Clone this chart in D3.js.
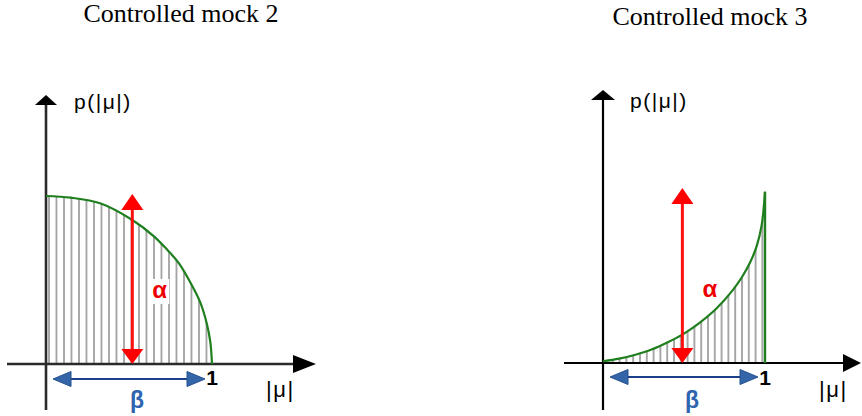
<!DOCTYPE html>
<html><head><meta charset="utf-8">
<script src="https://cdn.jsdelivr.net/npm/d3@7"></script>
<style>html,body{margin:0;padding:0;background:#fff;overflow:hidden}</style>
</head><body><svg id="c" width="862" height="416"></svg>
<script>
// ---------- data ----------
const panelTitles = ["Controlled mock 2", "Controlled mock 3"];
const yAxisLabel = "p(|μ|)";
const xAxisLabel = "|μ|";
const xTickLabels = ["1"];
const arrowLabels = ["α", "β"];
// mock 2: decreasing (quarter-ellipse-like) density of |μ|
const mock2Mu = [0, 0.15, 0.33, 0.52, 0.65, 0.73, 0.8, 0.886, 0.93, 0.97, 0.99, 1];
const mock2P  = [1, 0.99, 0.955, 0.857, 0.76, 0.68, 0.6, 0.455, 0.365, 0.235, 0.13, 0];
// mock 3: increasing density of |μ|
const mock3Mu = [0, 0.1, 0.2, 0.3, 0.4, 0.5, 0.6, 0.7, 0.8, 0.86, 0.91, 0.95, 0.98, 1];
const mock3P  = [0.01, 0.025, 0.048, 0.078, 0.12, 0.17, 0.235, 0.315, 0.42, 0.5, 0.585, 0.68, 0.8, 0.99];
// position of the α arrow along |μ|
const alphaMu = [0.52, 0.49];

// ---------- layout ----------
const panels = [
  {mu: mock2Mu, p: mock2P, alpha: alphaMu[0], xr: [46, 212], yr: [364, 196],
   title: [181, 22], axisCol: "#2a2a2a", axisW: 2.6,
   yAx: {bottom: 410, tip: 95, hw: 11, hl: 10}, xAx: {left: 7, tip: 316, hw: 9, hl: 23},
   hatch: 7.5, alphaBox: true, pLab: [74, 109], betaY: 379},
  {mu: mock3Mu, p: mock3P, alpha: alphaMu[1], xr: [603, 765], yr: [363, 190],
   title: [710, 25], axisCol: "#000", axisW: 2.2,
   yAx: {bottom: 410, tip: 90, hw: 12, hl: 10}, xAx: {left: 564, tip: 861, hw: 9, hl: 18},
   hatch: 6.8, alphaBox: false, pLab: [630, 108], betaY: 377}
];

const svg = d3.select("#c");
const defs = svg.append("defs");
const smooth = d3.curveCatmullRom.alpha(0.5);

panels.forEach((P, i) => {
  const x = d3.scaleLinear().domain([0, 1]).range(P.xr);
  const y = d3.scaleLinear().domain([0, 1]).range(P.yr);
  const g = svg.append("g");
  const pts = P.mu.map((m, k) => [m, P.p[k]]);

  // title
  g.append("text").attr("x", P.title[0]).attr("y", P.title[1])
    .attr("text-anchor", "middle")
    .style("font-family", "'Liberation Serif','Times New Roman',serif")
    .style("font-size", "26px").attr("fill", "#000").text(panelTitles[i]);

  // hatch pattern
  const pid = "hatch" + i;
  const pat = defs.append("pattern").attr("id", pid)
    .attr("patternUnits", "userSpaceOnUse")
    .attr("x", x(0) + 2).attr("y", 0)
    .attr("width", P.hatch).attr("height", 10);
  pat.append("rect").attr("width", P.hatch).attr("height", 10).attr("fill", "#fff");
  pat.append("line").attr("x1", 1).attr("x2", 1).attr("y1", 0).attr("y2", 10)
    .attr("stroke", "#a0a0a0").attr("stroke-width", 1.8);

  // filled area
  const area = d3.area().x(d => x(d[0])).y0(y(0)).y1(d => y(d[1])).curve(smooth);
  g.append("path").datum(pts).attr("d", area).attr("fill", `url(#${pid})`);

  // axes
  const ax0 = x(0), ay0 = y(0);
  g.append("line").attr("x1", ax0).attr("x2", ax0).attr("y1", P.yAx.bottom).attr("y2", P.yAx.tip + P.yAx.hl)
    .attr("stroke", P.axisCol).attr("stroke-width", P.axisW);
  g.append("path").attr("d", `M${ax0},${P.yAx.tip}L${ax0 - P.yAx.hw},${P.yAx.tip + P.yAx.hl}L${ax0 + P.yAx.hw},${P.yAx.tip + P.yAx.hl}Z`)
    .attr("fill", "#000");
  g.append("line").attr("x1", P.xAx.left).attr("x2", P.xAx.tip - P.xAx.hl).attr("y1", ay0).attr("y2", ay0)
    .attr("stroke", P.axisCol).attr("stroke-width", P.axisW);
  g.append("path").attr("d", `M${P.xAx.tip},${ay0}L${P.xAx.tip - P.xAx.hl},${ay0 - P.xAx.hw}L${P.xAx.tip - P.xAx.hl},${ay0 + P.xAx.hw}Z`)
    .attr("fill", "#000");

  // curve
  const line = d3.line().x(d => x(d[0])).y(d => y(d[1])).curve(smooth);
  g.append("path").datum(pts).attr("d", line).attr("fill", "none")
    .attr("stroke", "#1f7f1f").attr("stroke-width", 2.2);
  const last = pts[pts.length - 1];
  if (last[1] > 0.05) {
    g.append("line").attr("x1", x(last[0])).attr("x2", x(last[0])).attr("y1", y(0)).attr("y2", y(last[1]))
      .attr("stroke", "#1f7f1f").attr("stroke-width", 2.4);
  }

  // α arrow (red, vertical)
  const ax = x(P.alpha), top = y(1) - 2, bot = y(0);
  const hw = 11, hl = 16;
  g.append("line").attr("x1", ax).attr("x2", ax).attr("y1", top + hl - 1).attr("y2", bot - hl + 2)
    .attr("stroke", "#ff1010").attr("stroke-width", 3);
  g.append("path").attr("d", `M${ax},${top}L${ax - hw},${top + hl}L${ax + hw},${top + hl}Z`).attr("fill", "#ff0000");
  g.append("path").attr("d", `M${ax},${bot}L${ax - hw},${bot - hl + 1}L${ax + hw},${bot - hl + 1}Z`).attr("fill", "#ff0000");

  // α label
  const alab = g.append("text").attr("x", ax + 20).attr("y", y(0) - 66)
    .style("font-family", "'Liberation Sans',Arial,sans-serif").style("font-weight", "bold")
    .style("font-size", "24px").attr("fill", "#ee0000").text(arrowLabels[0]);
  if (P.alphaBox) {
    const bb = alab.node().getBBox();
    g.insert("rect", () => alab.node()).attr("x", bb.x - 4).attr("y", bb.y + 3)
      .attr("width", bb.width + 6).attr("height", bb.height - 2).attr("fill", "#fff");
  }

  // β arrow (blue, horizontal)
  const by = P.betaY, bl = x(0) + 7, br = x(1) - 7, bhl = 18, bhw = 7.5;
  g.append("line").attr("x1", bl + bhl - 2).attr("x2", br - bhl + 2).attr("y1", by).attr("y2", by)
    .attr("stroke", "#1d3f8a").attr("stroke-width", 2);
  g.append("path").attr("d", `M${bl},${by}L${bl + bhl},${by - bhw}L${bl + bhl},${by + bhw}Z`)
    .attr("fill", "#3465a8").attr("stroke", "#25508f").attr("stroke-width", 1);
  g.append("path").attr("d", `M${br},${by}L${br - bhl},${by - bhw}L${br - bhl},${by + bhw}Z`)
    .attr("fill", "#3465a8").attr("stroke", "#25508f").attr("stroke-width", 1);
  g.append("text").attr("x", (x(0) + x(1)) / 2 + 8).attr("y", 408).attr("text-anchor", "middle")
    .style("font-family", "'Liberation Sans',Arial,sans-serif").style("font-weight", "bold")
    .style("font-size", "23px").attr("fill", "#2e64b0").text(arrowLabels[1]);

  // tick label "1"
  g.append("text").attr("x", x(1) + 0).attr("y", 385).attr("text-anchor", "middle")
    .style("font-family", "'Liberation Sans',Arial,sans-serif").style("font-weight", "bold")
    .style("font-size", "21px").attr("fill", "#000").text(xTickLabels[0]);

  // axis labels
  g.append("text").attr("x", x(1) + 54).attr("y", 397)
    .style("font-family", "'Liberation Sans',Arial,sans-serif").style("letter-spacing", "1.5px")
    .style("font-size", "22px").attr("fill", "#000").text(xAxisLabel);
  g.append("text").attr("x", P.pLab[0]).attr("y", P.pLab[1])
    .style("font-family", "'Liberation Sans',Arial,sans-serif").style("letter-spacing", "1.5px")
    .style("font-size", "21px").attr("fill", "#000").text(yAxisLabel);
});
</script>
</body></html>
